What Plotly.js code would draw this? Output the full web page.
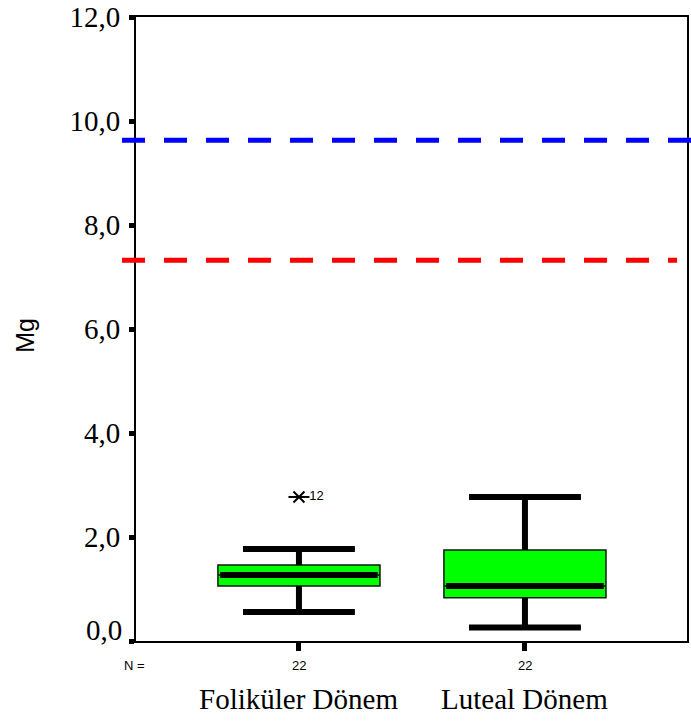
<!DOCTYPE html>
<html>
<head>
<meta charset="utf-8">
<script src="https://cdn.plot.ly/plotly-3.0.1.min.js"></script>
<style>html,body{margin:0;padding:0;background:#fff;}#chart{width:691px;height:722px;}</style>
</head>
<body>
<div id="chart"></div>
<script>
// ---- data ----
const categories = ["Foliküler Dönem", "Luteal Dönem"];
const positions = [0, 1];
const nCounts = [22, 22];
const q1 = [1.06, 0.83];
const median = [1.27, 1.06];
const q3 = [1.46, 1.75];
const lowerWhisker = [0.56, 0.26];
const upperWhisker = [1.77, 2.77];
const outlierX = [0];
const outlierY = [2.77];
const outlierLabels = ["12"];
const refBlue = 9.63;
const refRed = 7.32;
const yTickVals = [0, 2, 4, 6, 8, 10, 12];
const yTickText = ["0,0", "2,0", "4,0", "6,0", "8,0", "10,0", "12,0"];

// ---- styling constants ----
const boxW = 0.717;
const capW = 0.495;
const serif = "Liberation Serif";
const sans = "Liberation Sans";

const traces = [];
traces.push({
  type: "box",
  x: positions,
  q1: q1, median: median, q3: q3,
  lowerfence: lowerWhisker, upperfence: upperWhisker,
  width: boxW,
  whiskerwidth: capW / boxW,
  fillcolor: "#00ff00",
  line: {color: "#0a1a0a", width: 1.5},
  boxpoints: false,
  hoverinfo: "skip",
  showlegend: false
});

positions.forEach((p, i) => {
  const thick = {color: "#000", width: 6};
  traces.push({type: "scatter", mode: "lines", x: [p, p], y: [q3[i], upperWhisker[i]], line: thick, showlegend: false, hoverinfo: "skip"});
  traces.push({type: "scatter", mode: "lines", x: [p, p], y: [q1[i], lowerWhisker[i]], line: thick, showlegend: false, hoverinfo: "skip"});
  traces.push({type: "scatter", mode: "lines", x: [p - capW / 2, p + capW / 2], y: [upperWhisker[i], upperWhisker[i]], line: thick, showlegend: false, hoverinfo: "skip"});
  traces.push({type: "scatter", mode: "lines", x: [p - capW / 2, p + capW / 2], y: [lowerWhisker[i], lowerWhisker[i]], line: thick, showlegend: false, hoverinfo: "skip"});
  traces.push({type: "scatter", mode: "lines", x: [p - boxW / 2 + 0.01, p + boxW / 2 - 0.01], y: [median[i], median[i]], line: thick, showlegend: false, hoverinfo: "skip"});
});

traces.push({
  type: "scatter", mode: "markers",
  x: outlierX, y: outlierY,
  marker: {symbol: "x-thin-open", size: 11, color: "#000", line: {width: 2, color: "#000"}},
  showlegend: false, hoverinfo: "skip", cliponaxis: false
});
traces.push({
  type: "scatter", mode: "markers+text",
  x: outlierX, y: outlierY, text: outlierLabels,
  textposition: "middle right",
  textfont: {family: sans, size: 13, color: "#000"},
  marker: {symbol: "line-ew-open", size: 15, color: "#000", line: {width: 2, color: "#000"}},
  showlegend: false, hoverinfo: "skip", cliponaxis: false
});

const annotations = [];
annotations.push({xref: "paper", yref: "paper", x: -0.002, y: -0.0385, text: "N =", showarrow: false, font: {family: sans, size: 13, color: "#000"}, xanchor: "center", yanchor: "middle"});
positions.forEach((p, i) => {
  annotations.push({xref: "x", yref: "paper", x: p, y: -0.0385, text: String(nCounts[i]), showarrow: false, font: {family: sans, size: 13, color: "#000"}, xanchor: "center", yanchor: "middle"});
  annotations.push({xref: "x", yref: "paper", x: p, y: 0, yshift: -58, text: categories[i], showarrow: false, font: {family: serif, size: 29, color: "#000"}, xanchor: "center", yanchor: "middle"});
});
annotations.push({xref: "paper", yref: "paper", x: -0.2005, y: 0.49, text: "Mg", textangle: -90, showarrow: false, font: {family: sans, size: 25, color: "#000"}, xanchor: "center", yanchor: "middle"});
annotations.push({xref: "paper", yref: "y", x: -0.021, y: yTickVals[0], yshift: 11, text: yTickText[0], showarrow: false, font: {family: serif, size: 29, color: "#000"}, xanchor: "right", yanchor: "middle"});

const layout = {
  width: 691, height: 722,
  margin: {l: 136, r: 4, t: 17, b: 81},
  paper_bgcolor: "#fff", plot_bgcolor: "#fff",
  showlegend: false,
  font: {family: serif},
  xaxis: {
    range: [-0.721, 1.717],
    tickvals: positions, ticktext: ["", ""],
    ticks: "outside", ticklen: 8, tickwidth: 5, tickcolor: "#000",
    showline: true, linecolor: "#000", linewidth: 2, mirror: true,
    showgrid: false, zeroline: false
  },
  yaxis: {
    range: [0, 12],
    tickvals: yTickVals, ticktext: ["", ...yTickText.slice(1)],
    ticks: "outside", ticklen: 5, tickwidth: 5, tickcolor: "#000",
    ticklabelstandoff: 3,
    tickfont: {family: serif, size: 29, color: "#000"},
    showline: true, linecolor: "#000", linewidth: 2, mirror: true,
    showgrid: false, zeroline: false
  },
  shapes: [
    {type: "line", xref: "paper", yref: "y", x0: -0.0254, x1: 1.008, y0: refBlue, y1: refBlue, line: {color: "#0000ff", width: 5, dash: "23px,19px"}},
    {type: "line", xref: "paper", yref: "y", x0: -0.0254, x1: 0.982, y0: refRed, y1: refRed, line: {color: "#ff0000", width: 5, dash: "23px,19px"}}
  ],
  annotations: annotations
};

Plotly.newPlot("chart", traces, layout, {staticPlot: true, displayModeBar: false});
</script>
</body>
</html>
